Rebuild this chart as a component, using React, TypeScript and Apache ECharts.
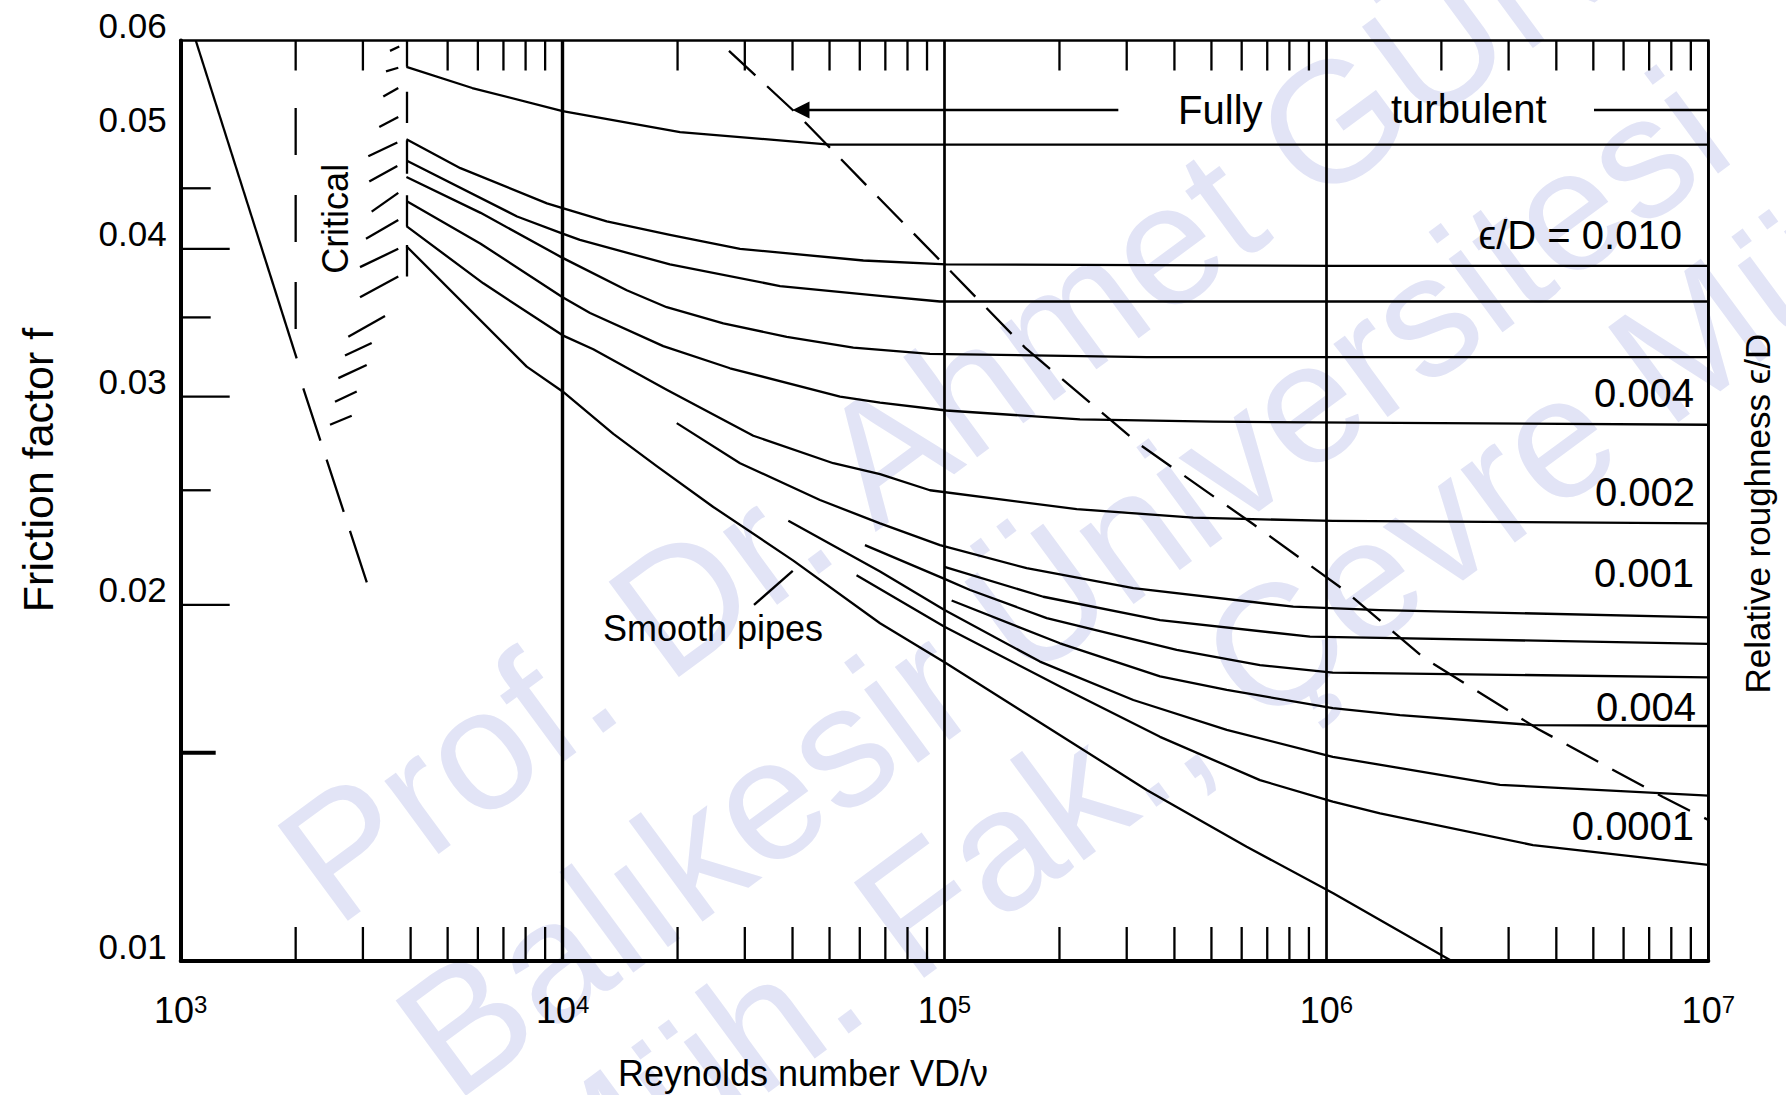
import { useEffect, useRef } from "react";
import * as echarts from "echarts";

const FONT = '"Liberation Sans", Arial, Helvetica, sans-serif';
const INK = "#000000";
const WATERMARK = "#e2e4f6";

const RE_MIN = 1000;
const RE_MAX = 10000000;
const F_MIN = 0.01;
const F_MAX = 0.06;

// Friction factor curves as [Reynolds number, f]
const rough1 = [[3900, 0.057], [5800, 0.0547], [10000, 0.0523], [20300, 0.0502], [50000, 0.049], [100000, 0.049], [10000000, 0.049]];
const rough2 = [[3900, 0.0495], [5400, 0.0468], [9100, 0.0437], [10000, 0.0433], [13050, 0.0422], [19100, 0.0411], [29150, 0.04], [61300, 0.0391], [101000, 0.0388], [1040000, 0.0387], [10000000, 0.0387]];
const rough3 = [[3900, 0.0475], [7600, 0.0426], [10000, 0.0412], [11100, 0.0407], [19100, 0.0388], [37100, 0.0372], [67800, 0.0365], [97300, 0.0361], [10000000, 0.0361]];
const rough4 = [[3900, 0.046], [6100, 0.0429], [10000, 0.0393], [14720, 0.0369], [18730, 0.0357], [26350, 0.0346], [38630, 0.0337], [57700, 0.033], [91600, 0.0326], [338400, 0.0324], [10000000, 0.0324]];
const rough5 = [[3900, 0.0439], [6100, 0.0404], [10000, 0.0364], [11800, 0.0353], [18350, 0.0331], [27440, 0.0317], [53270, 0.03], [67800, 0.02965], [101000, 0.0292], [226300, 0.0287], [505800, 0.02857], [10000000, 0.0284]];
const rough6 = [[3900, 0.0418], [6200, 0.0374], [10000, 0.0338], [12030, 0.0329], [18730, 0.0304], [31580, 0.0278], [51150, 0.02635], [67800, 0.0258], [91600, 0.025], [221900, 0.0241], [448200, 0.0237], [1039000, 0.02355], [10000000, 0.02344]];
const rough7 = [[19900, 0.02849], [29150, 0.02635], [47200, 0.02453], [67800, 0.02344], [97300, 0.02247], [164100, 0.02148], [312200, 0.02066], [818900, 0.01993], [1382000, 0.0198], [10000000, 0.01952]];
const rough8 = [[100000, 0.02154], [181400, 0.02032], [366700, 0.01942], [905700, 0.0188], [1382000, 0.01876], [10000000, 0.01854]];
const rough9 = [[61900, 0.02247], [99300, 0.02106], [116700, 0.02059], [185200, 0.01949], [405500, 0.01832], [670000, 0.01779], [1039000, 0.01753], [10000000, 0.01737]];
const rough10 = [[104400, 0.02017], [200600, 0.01856], [366700, 0.0174], [548300, 0.01695], [1039000, 0.01636], [1558000, 0.01614], [3475000, 0.01583], [10000000, 0.0158]];
const rough11 = [[39000, 0.02356], [67800, 0.02134], [100000, 0.0198], [177800, 0.01791], [312200, 0.01662], [548300, 0.01568], [1039000, 0.01488], [2848000, 0.01409], [10000000, 0.0138]];
const rough12 = [[58840, 0.02119], [100000, 0.01917], [200600, 0.01706], [366700, 0.01547], [670000, 0.01422], [1039000, 0.01364], [1382000, 0.01333], [3475000, 0.01253], [10000000, 0.01206]];
const smoothPipe = [[3900, 0.0402], [8054, 0.0318], [10000, 0.0303], [13580, 0.0279], [17640, 0.0262], [24810, 0.0242], [40190, 0.0218], [67800, 0.0193], [101000, 0.01785], [185200, 0.01578], [338400, 0.01395], [618400, 0.01249], [1042000, 0.01141], [2107000, 0.01002]];

// Laminar line: solid part, then dashed continuation
const laminarSolid = [[1095, 0.06], [2012, 0.03232]];
const laminarDashed = [[2094, 0.03049], [3071, 0.0209]];

// Dashed boundary of the fully turbulent zone
const fullyRoughBoundary = [[27270, 0.0588], [41100, 0.052], [62300, 0.0453], [99700, 0.0388], [162500, 0.033], [323100, 0.02735], [642500, 0.02341], [1112000, 0.02059], [1801000, 0.01804], [3580000, 0.01571], [7610000, 0.01376], [10000000, 0.01316]];

// Dashed vertical at Re = 2000
const transitionLine = [[2000, 0.0526], [2000, 0.0341]];

// Critical zone: vertical stems at Re = 3900 (f from, f to) and hatch strokes
const criticalStemRe = 3900;
const criticalStems = [[0.06, 0.057], [0.0543, 0.0511], [0.0494, 0.0463], [0.0444, 0.0418], [0.0403, 0.0379]];
const criticalHatch = [
  [[3532, 0.0588], [3735, 0.0593]],
  [[3448, 0.0565], [3713, 0.0569]],
  [[3392, 0.0538], [3713, 0.0547]],
  [[3311, 0.0507], [3713, 0.0517]],
  [[3099, 0.0479], [3691, 0.0492]],
  [[3117, 0.0456], [3691, 0.047]],
  [[3163, 0.043], [3713, 0.0446]],
  [[3056, 0.0408], [3713, 0.0423]],
  [[2948, 0.0386], [3713, 0.04]],
  [[2948, 0.0364], [3713, 0.0379]],
  [[2747, 0.0337], [3428, 0.0351]],
  [[2693, 0.0325], [3163, 0.0333]],
  [[2587, 0.0311], [3069, 0.0319]],
  [[2535, 0.0297], [2890, 0.0303]],
  [[2460, 0.0284], [2804, 0.0289]],
];

// Arrow and rule of the "Fully turbulent" caption, leader of "Smooth pipes"
const arrowLine = [[285200, 0.0524], [42100, 0.0524]];
const turbulentRule = [[5020000, 0.0524], [10000000, 0.0524]];
const smoothLeader = [[31710, 0.02], [40050, 0.02137]];

// Axis ticks
const xTicksBottom = [
  2000, 3000, 4000, 5000, 6000, 7000, 8000, 9000,
  20000, 30000, 40000, 50000, 60000, 70000, 80000, 90000,
  200000, 300000, 400000, 500000, 600000, 700000, 800000, 900000,
  2000000, 3000000, 4000000, 5000000, 6000000, 7000000, 8000000, 9000000,
];
const xTicksTop = [
  2000, 3000, 5000, 6000, 7000, 8000, 9000,
  20000, 30000, 40000, 50000, 60000, 70000, 80000, 90000,
  200000, 300000, 400000, 500000, 600000, 700000, 800000, 900000,
  2000000, 3000000, 4000000, 5000000, 6000000, 7000000, 8000000, 9000000,
];
const yTicksMajor = [0.02, 0.03, 0.04];
const yTicksMinor = [0.025, 0.035, 0.045];
const yTicksLower = [0.015];
const yTickLabels = [0.01, 0.02, 0.03, 0.04, 0.05, 0.06];

// In-plot captions, anchored in data space
const captionAnchors = [
  [409000, 0.0524], [1476000, 0.0525], [8530000, 0.0411], [9180000, 0.0302], [9230000, 0.0249],
  [9180000, 0.0213], [9290000, 0.0164], [9180000, 0.013], [2546, 0.0424], [24770, 0.0191],
];
const captionTexts = ["Fully", "turbulent", "\u03f5/D = 0.010", "0.004", "0.002", "0.001", "0.004", "0.0001", "Critical", "Smooth pipes"];
const captionLayout = [
  { align: "left", size: 40, rot: 0 },
  { align: "left", size: 40, rot: 0 },
  { align: "right", size: 40, rot: 0 },
  { align: "right", size: 40, rot: 0 },
  { align: "right", size: 40, rot: 0 },
  { align: "right", size: 40, rot: 0 },
  { align: "right", size: 40, rot: 0 },
  { align: "right", size: 40, rot: 0 },
  { align: "center", size: 36, rot: Math.PI / 2 },
  { align: "center", size: 36, rot: 0 },
];

// Background credit lines, drawn diagonally behind the chart
const watermarkLines = ["Prof. Dr. Ahmet G\u00dcNAY", "Bal\u0131kesir \u00dcniversitesi", "M\u00fch. Fak., \u00c7evre M\u00fch."];
const watermarkOrigins = [[352, 950], [470, 1125], [582, 1262]];

function lineEl(x1: number, y1: number, x2: number, y2: number, w = 2.3) {
  return { type: "line", shape: { x1, y1, x2, y2 }, style: { stroke: INK, lineWidth: w, lineCap: "butt" } };
}

function curve(data: number[][], extra: any = {}) {
  return {
    type: "line",
    data,
    showSymbol: false,
    symbol: "none",
    smooth: false,
    silent: true,
    z: 4,
    lineStyle: { color: INK, width: 2.3, join: "round" },
    ...extra,
  };
}

function segments(data: number[][][], extra: any = {}) {
  return {
    type: "lines",
    coordinateSystem: "cartesian2d",
    silent: true,
    z: 4,
    data: data.map((c) => ({ coords: c })),
    lineStyle: { color: INK, width: 2.3, opacity: 1, curveness: 0 },
    ...extra,
  };
}

function tickSeries(values: number[], atY: number, build: (p: number[]) => any) {
  return {
    type: "custom",
    clip: false,
    silent: true,
    z: 5,
    data: values.map((v) => [v, atY]),
    renderItem: (_params: any, api: any) => build(api.coord([api.value(0), api.value(1)])),
  };
}

function yTickSeries(values: number[], build: (p: number[], v: number) => any) {
  return {
    type: "custom",
    clip: false,
    silent: true,
    z: 5,
    data: values.map((v) => [RE_MIN, v]),
    renderItem: (_params: any, api: any) => build(api.coord([api.value(0), api.value(1)]), api.value(1)),
  };
}

function buildOption() {
  const stems = criticalStems.map(([a, b]) => [[criticalStemRe, a], [criticalStemRe, b]]);

  return {
    animation: false,
    backgroundColor: "#ffffff",
    grid: {
      left: 180.7,
      right: 77.7,
      top: 40.5,
      bottom: 134,
      show: true,
      borderColor: INK,
      borderWidth: 2.6,
      containLabel: false,
      outerBoundsMode: "none",
    },
    xAxis: {
      type: "log",
      logBase: 10,
      min: RE_MIN,
      max: RE_MAX,
      axisLine: { show: true, onZero: false, lineStyle: { color: INK, width: 4 } },
      axisTick: { show: false },
      splitLine: { show: true, lineStyle: { color: INK, width: 2.7 } },
      axisLabel: {
        show: true,
        margin: 31,
        formatter: (v: number) => `{b|10}{s|${Math.round(Math.log10(v))}}`,
        rich: {
          b: { fontSize: 36, fontFamily: FONT, color: INK, lineHeight: 36, verticalAlign: "bottom" },
          s: { fontSize: 24, fontFamily: FONT, color: INK, lineHeight: 24, verticalAlign: "top" },
        },
      },
    },
    yAxis: {
      type: "log",
      logBase: 10,
      min: F_MIN,
      max: F_MAX,
      axisLine: { show: true, onZero: false, lineStyle: { color: INK, width: 4 } },
      axisTick: { show: false },
      axisLabel: { show: false },
      splitLine: { show: false },
    },
    graphic: [
      ...watermarkLines.map((t, i) => ({
        type: "text",
        z: -10,
        silent: true,
        x: watermarkOrigins[i][0],
        y: watermarkOrigins[i][1],
        rotation: 0.635,
        style: {
          text: t,
          fill: WATERMARK,
          fontSize: 172,
          fontFamily: FONT,
          align: "left",
          verticalAlign: "bottom",
          textAlign: "left",
          textVerticalAlign: "bottom",
        },
      })),
      {
        type: "text",
        x: 37.6,
        y: 470,
        rotation: Math.PI / 2,
        style: { text: "Friction factor f", fill: INK, fontSize: 43, fontFamily: FONT, align: "center", verticalAlign: "middle", textAlign: "center", textVerticalAlign: "middle" },
      },
      {
        type: "text",
        x: 803,
        y: 1073,
        style: { text: "Reynolds number VD/\u03bd", fill: INK, fontSize: 36, fontFamily: FONT, align: "center", verticalAlign: "middle", textAlign: "center", textVerticalAlign: "middle" },
      },
      {
        type: "text",
        x: 1757.5,
        y: 513.7,
        rotation: Math.PI / 2,
        style: { text: "Relative roughness \u03f5/D", fill: INK, fontSize: 35, fontFamily: FONT, align: "center", verticalAlign: "middle", textAlign: "center", textVerticalAlign: "middle" },
      },
    ],
    series: [
      curve(rough1),
      curve(rough2),
      curve(rough3),
      curve(rough4),
      curve(rough5),
      curve(rough6),
      curve(rough7),
      curve(rough8),
      curve(rough9),
      curve(rough10),
      curve(rough11),
      curve(rough12),
      curve(smoothPipe),
      curve(laminarSolid),
      curve(laminarDashed, { lineStyle: { color: INK, width: 2.3, type: [55, 20] } }),
      curve(transitionLine, { lineStyle: { color: INK, width: 2.3, type: [47, 40] } }),
      curve(fullyRoughBoundary, { lineStyle: { color: INK, width: 2.3, type: [36, 16] } }),
      segments([...stems, ...criticalHatch, smoothLeader, turbulentRule]),
      segments([[[10000, F_MIN], [10000, F_MAX]]], { lineStyle: { color: INK, width: 3.4, opacity: 1 } }),
      segments([arrowLine], { symbol: ["none", "triangle"], symbolSize: 17 }),
      // ticks on the Reynolds axis: from the bottom edge and from the top edge
      tickSeries(xTicksBottom, F_MIN, (p) => lineEl(p[0], p[1], p[0], p[1] - 34)),
      tickSeries(xTicksTop, F_MAX, (p) => lineEl(p[0], p[1], p[0], p[1] + 30)),
      // ticks and labels on the friction factor axis
      yTickSeries(yTicksMajor, (p) => lineEl(p[0], p[1], p[0] + 49, p[1])),
      yTickSeries(yTicksMinor, (p) => lineEl(p[0], p[1], p[0] + 30, p[1])),
      yTickSeries(yTicksLower, (p) => lineEl(p[0], p[1], p[0] + 35, p[1], 4)),
      yTickSeries(yTickLabels, (p, v) => ({
        type: "text",
        x: p[0] - 14,
        y: p[1] - 15,
        style: { text: v.toFixed(2), fill: INK, fontSize: 35, fontFamily: FONT, align: "right", verticalAlign: "middle", textAlign: "right", textVerticalAlign: "middle" },
      })),
      {
        type: "custom",
        clip: false,
        silent: true,
        z: 6,
        data: captionAnchors,
        renderItem: (params: any, api: any) => {
          const p = api.coord([api.value(0), api.value(1)]);
          const lay = captionLayout[params.dataIndex];
          return {
            type: "text",
            x: p[0],
            y: p[1],
            rotation: lay.rot,
            style: {
              text: captionTexts[params.dataIndex],
              fill: INK,
              fontSize: lay.size,
              fontFamily: FONT,
              align: lay.align,
              verticalAlign: "middle",
              textAlign: lay.align,
              textVerticalAlign: "middle",
            },
          };
        },
      },
    ],
  };
}

export default function App() {
  const ref = useRef<HTMLDivElement>(null);
  useEffect(() => {
    if (!ref.current) return;
    const chart = echarts.init(ref.current, null, { renderer: "svg" });
    chart.setOption(buildOption() as any);
    return () => chart.dispose();
  }, []);
  return (
    <div
      ref={ref}
      style={{ position: "fixed", left: 0, top: 0, width: 1786, height: 1095, background: "#ffffff" }}
    />
  );
}
